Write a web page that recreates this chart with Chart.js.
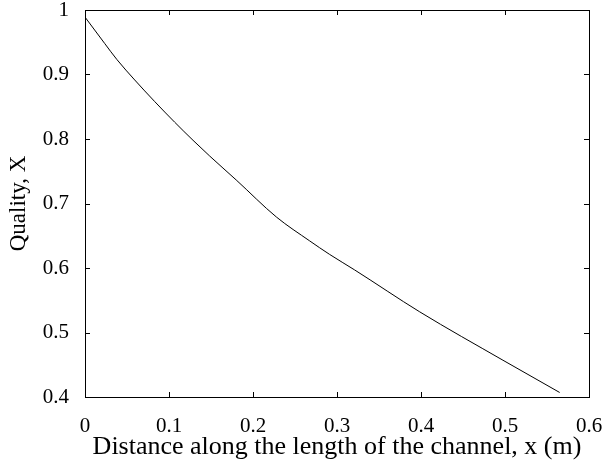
<!DOCTYPE html>
<html>
<head>
<meta charset="utf-8">
<script src="https://cdn.jsdelivr.net/npm/chart.js@4"></script>
<style>
  html, body { margin: 0; padding: 0; background: #fff; }
  #wrap { width: 609px; height: 464px; }
</style>
</head>
<body>
<div id="wrap"><canvas id="quality"></canvas></div>
<script>
// distance along the channel (m) and vapour quality
const distance = [0, 0.0235, 0.0381, 0.0592, 0.083, 0.1068, 0.1286, 0.1485, 0.180, 0.2279, 0.2675, 0.2913, 0.321, 0.3985, 0.4976, 0.5651];
const quality = [0.989, 0.948, 0.923, 0.8915, 0.858, 0.826, 0.798, 0.7735, 0.7365, 0.679, 0.642, 0.621, 0.597, 0.532, 0.457, 0.407];

const xTicks = [0, 0.1, 0.2, 0.3, 0.4, 0.5, 0.6];
const yTicks = [0.4, 0.5, 0.6, 0.7, 0.8, 0.9, 1];

const serif = 'Liberation Serif';
const TICK = 5;

// matlab style box with inward ticks on all four sides
const boxTicks = {
    id: 'boxTicks',
    afterDraw(chart) {
        const { ctx, chartArea: a, scales } = chart;
        ctx.save();
        ctx.strokeStyle = '#000';
        ctx.lineWidth = 1;
        ctx.beginPath();
        xTicks.forEach(v => {
            const px = Math.round(scales.x.getPixelForValue(v)) + 0.5;
            ctx.moveTo(px, a.bottom); ctx.lineTo(px, a.bottom - TICK);
            ctx.moveTo(px, a.top); ctx.lineTo(px, a.top + TICK);
        });
        yTicks.forEach(v => {
            const py = Math.round(scales.y.getPixelForValue(v)) + 0.5;
            ctx.moveTo(a.left, py); ctx.lineTo(a.left + TICK, py);
            ctx.moveTo(a.right, py); ctx.lineTo(a.right - TICK, py);
        });
        ctx.stroke();
        ctx.strokeRect(Math.round(a.left) + 0.5, Math.round(a.top) + 0.5,
            Math.round(a.right - a.left), Math.round(a.bottom - a.top));
        ctx.restore();
    }
};

new Chart(document.getElementById('quality'), {
    type: 'scatter',
    data: {
        datasets: [{
            data: distance.map((d, i) => ({ x: d, y: quality[i] })),
            showLine: true,
            borderColor: '#000',
            borderWidth: 1,
            pointRadius: 0,
            cubicInterpolationMode: 'monotone',
            fill: false,
        }],
    },
    options: {
        responsive: true,
        maintainAspectRatio: false,
        animation: false,
        layout: { padding: { top: 10, right: 20, left: 0, bottom: 0 } },
        plugins: { legend: { display: false }, tooltip: { enabled: false } },
        scales: {
            x: {
                type: 'linear',
                min: 0,
                max: 0.6,
                afterBuildTicks: s => { s.ticks = xTicks.map(v => ({ value: v })); },
                afterFit: s => { s.height = 67; s.paddingLeft = 0; s.paddingRight = 0; },
                grid: { display: false },
                border: { display: false },
                ticks: {
                    color: '#000',
                    padding: 9,
                    maxRotation: 0,
                    font: { family: serif, size: 21 },
                    callback: v => String(+v.toFixed(1)),
                },
                title: {
                    display: true,
                    text: 'Distance along the length of the channel, x (m)',
                    color: '#000',
                    font: { family: serif, size: 26 },
                    padding: { top: 0, bottom: 1 },
                },
            },
            y: {
                type: 'linear',
                min: 0.4,
                max: 1,
                afterBuildTicks: s => { s.ticks = yTicks.map(v => ({ value: v })); },
                afterFit: s => { s.width = 85; s.paddingTop = 0; s.paddingBottom = 0; },
                grid: { display: false },
                border: { display: false },
                ticks: {
                    color: '#000',
                    padding: 8,
                    font: { family: serif, size: 21 },
                    callback: v => String(+v.toFixed(1)),
                },
                title: {
                    display: true,
                    text: 'Quality, X',
                    color: '#000',
                    font: { family: serif, size: 23 },
                    padding: { top: 5, bottom: 0 },
                },
            },
        },
    },
    plugins: [boxTicks],
});
</script>
</body>
</html>
